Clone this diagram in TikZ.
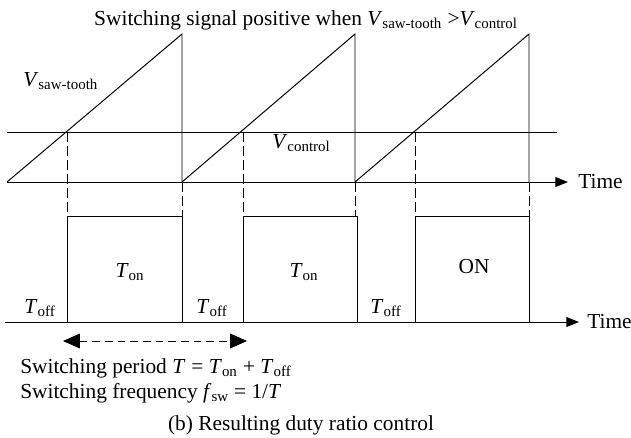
\documentclass[tikz,border=0pt]{standalone}
\usepackage{fontspec}
\setmainfont{Liberation Serif}
\usetikzlibrary{arrows.meta}
\newcommand{\vsub}[2]{\textit{#1}\textsubscript{#2}}
\tikzset{
  wave/.style={line width=0.7pt},
  guide/.style={line width=0.7pt,dash pattern=on 7pt off 3pt},
  axis/.style={line width=0.7pt,-{Triangle[length=9pt,width=7pt]}},
  lbl/.style={font=\fontsize{15.2}{18}\selectfont,inner sep=0pt,anchor=base},
}
\begin{document}
\begin{tikzpicture}[x=0.025cm,y=-0.025cm]
  \useasboundingbox (0,0) rectangle (631,437);
  % saw-tooth and control level
  \draw[wave] (7,182) -- (182,34) -- (182,182) -- (355,34) -- (355,182) -- (529,34) -- (529,182);
  \draw[wave] (7,132) -- (557,132);
  \draw[axis] (7,182) -- (568,182);
  \node[lbl,anchor=base west] (time1) at (578,188) {Time};
  % projections onto the switching signal
  \foreach \x/\top in {67/132,182/182,243/132,355/182,415/132,529/182}
    \draw[guide] (\x,\top) -- (\x,216);
  % switching signal
  \draw[wave] (67,322) -- (67,216) -- (182,216) -- (182,322);
  \draw[wave] (243,322) -- (243,216) -- (357,216) -- (357,322);
  \draw[wave] (415,322) -- (415,216) -- (529,216) -- (529,322);
  \draw[axis] (5,322) -- (579,322);
  \node[lbl,anchor=base west] (time2) at (587,328) {Time};
  % labels
  \node[lbl] (title) at (306,25) {Switching signal positive when \vsub{V}{saw-tooth} >\vsub{V}{control}};
  \node[lbl,anchor=base west] (vsaw) at (23,86) {\vsub{V}{saw-tooth}};
  \node[lbl,anchor=base west] (vctl) at (272,148) {\vsub{V}{control}};
  \node[lbl] (on1) at (130,277) {\vsub{T}{on}};
  \node[lbl] (on2) at (304,277) {\vsub{T}{on}};
  \node[lbl] (on3) at (474,273) {ON};
  \node[lbl] (off1) at (40,313) {\vsub{T}{off}};
  \node[lbl] (off2) at (212,313) {\vsub{T}{off}};
  \node[lbl] (off3) at (386,313) {\vsub{T}{off}};
  % period
  \coordinate (pa) at (63,341);
  \coordinate (pb) at (247,341);
  \draw[line width=0.7pt,dash pattern=on 5.5pt off 3.5pt,{Triangle[length=12pt,width=10.5pt]}-{Triangle[length=12pt,width=10.5pt]}] (pa) -- (pb);
  \node[lbl,anchor=base west] (period) at (20,373) {Switching period \vsub{T}{} = \vsub{T}{on} + \vsub{T}{off}};
  \node[lbl,anchor=base west] (freq) at (20,398) {Switching frequency \vsub{f}{sw} = 1/\textit{T}};
  \node[lbl] (caption) at (301,430) {(b) Resulting duty ratio control};
\end{tikzpicture}
\end{document}
